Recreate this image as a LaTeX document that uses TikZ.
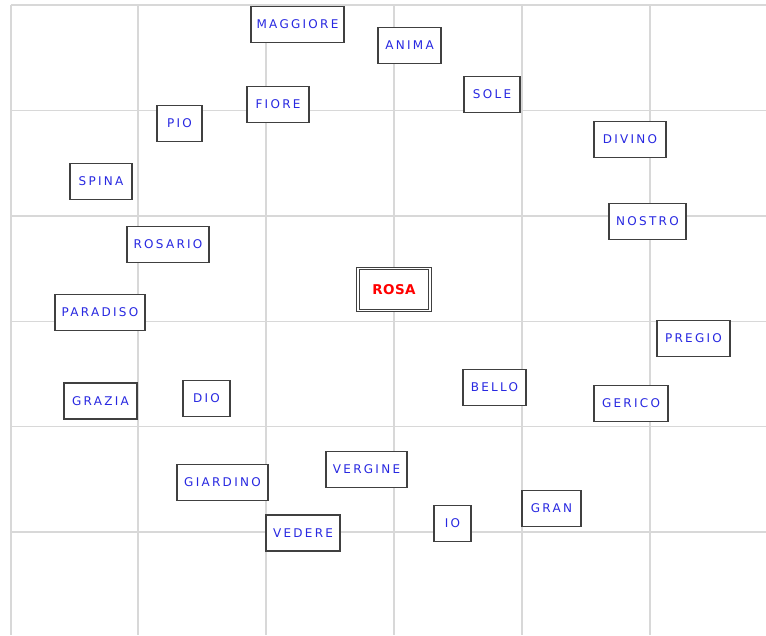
\documentclass[tikz,border=0pt]{standalone}
\usepackage{fontspec}
\newfontfamily\lblfont[LetterSpace=19]{DejaVu Sans}
\newfontfamily\rosafont[LetterSpace=3]{DejaVu Sans}
\definecolor{lblblue}{RGB}{40,40,225}
\definecolor{gridgray}{RGB}{216,216,216}
\definecolor{boxgray}{RGB}{64,64,64}
\tikzset{
  word/.style={draw=boxgray, line width=1.3pt, fill=white, inner sep=0pt,
    text=lblblue, font=\lblfont\fontsize{12}{13}\selectfont,
    minimum height=36pt},
  centre/.style={draw=boxgray, line width=0.9pt, double=white, double distance=1.6pt,
    fill=white, inner sep=0pt, text=red, font=\rosafont\bfseries\fontsize{13.5}{14}\selectfont,
    minimum width=72pt, minimum height=42pt},
  gridline/.style={draw=gridgray, line width=1.4pt}
}
\begin{document}
\begin{tikzpicture}[x=1pt,y=-1pt]
\useasboundingbox (0,0) rectangle (766,635);
\fill[white] (0,0) rectangle (766,635);
% grid
\draw[gridline] (11,5) -- (766,5);
\draw[gridline] (11,5) -- (11,635);
\foreach \gx in {138,266,394,522,650} \draw[gridline] (\gx,5) -- (\gx,635);
\foreach \gy in {110.4,215.8,321.2,426.6,532} \draw[gridline] (11,\gy) -- (766,\gy);
% words
\node[word, minimum width=93pt] (maggiore) at (297.5,24.5) {MAGGIORE};
\node[word, minimum width=63pt] (anima) at (409.5,45.5) {ANIMA};
\node[word, minimum width=56pt] (sole) at (492,94.5) {SOLE};
\node[word, minimum width=62pt] (fiore) at (278,104.5) {FIORE};
\node[word, minimum width=45pt] (pio) at (179.5,123.5) {PIO};
\node[word, minimum width=62pt] (spina) at (101,181.5) {SPINA};
\node[word, minimum width=72pt] (divino) at (630,139.5) {DIVINO};
\node[word, minimum width=77pt] (nostro) at (647.5,221.5) {NOSTRO};
\node[word, minimum width=82pt] (rosario) at (168,244.5) {ROSARIO};
\node[centre] (rosa) at (394,289.5) {ROSA};
\node[word, minimum width=90pt] (paradiso) at (100,312.5) {PARADISO};
\node[word, minimum width=73pt] (pregio) at (693.5,338.5) {PREGIO};
\node[word, minimum width=63pt] (bello) at (494.5,387.5) {BELLO};
\node[word, minimum width=74pt] (gerico) at (631,403.5) {GERICO};
\node[word, minimum width=73pt] (grazia) at (100.5,401) {GRAZIA};
\node[word, minimum width=47pt] (dio) at (206.5,398.5) {DIO};
\node[word, minimum width=91pt] (giardino) at (222.5,482.5) {GIARDINO};
\node[word, minimum width=81pt] (vergine) at (366.5,469.5) {VERGINE};
\node[word, minimum width=74pt] (vedere) at (303,533) {VEDERE};
\node[word, minimum width=37pt] (io) at (452.5,523.5) {IO};
\node[word, minimum width=59pt] (gran) at (551.5,508.5) {GRAN};
\end{tikzpicture}
\end{document}
